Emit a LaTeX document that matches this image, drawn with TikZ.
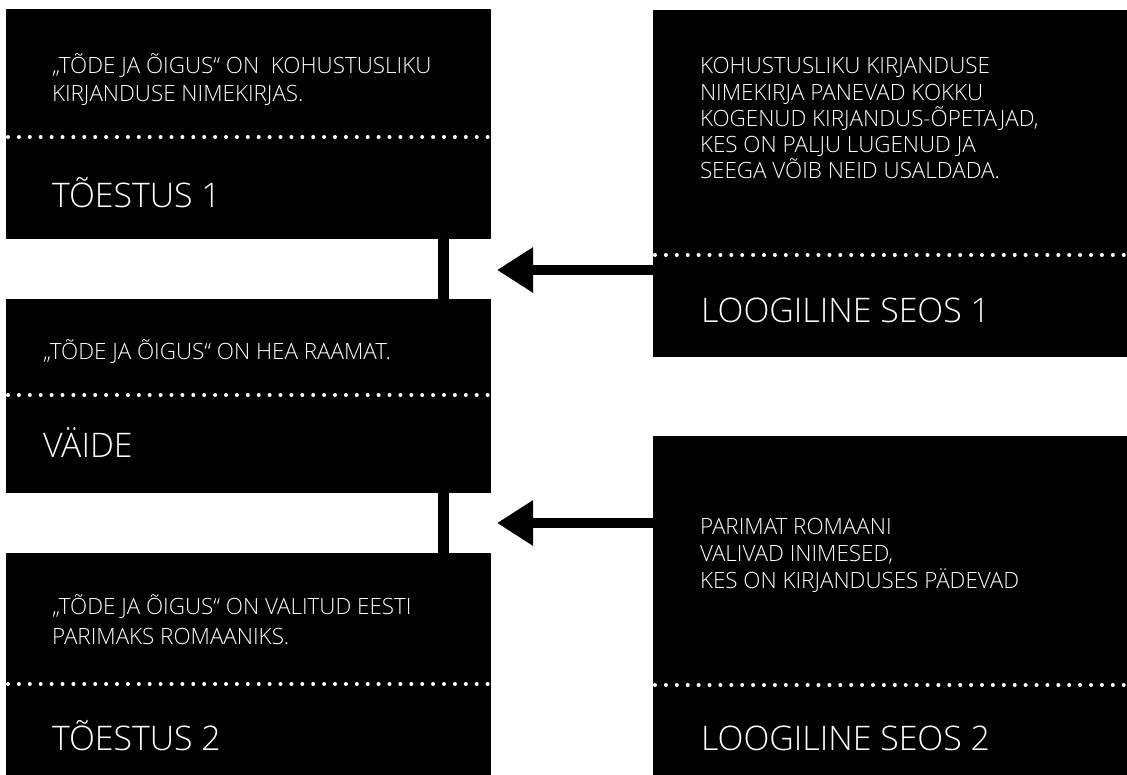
\documentclass[tikz,border=0pt]{standalone}
\usepackage{fontspec}
\setmainfont{Open Sans}[UprightFont=* Light]
\usetikzlibrary{arrows.meta}
\begin{document}
\begin{tikzpicture}[x=1bp,y=-1bp,
  box/.style={fill=black, draw=none, anchor=north west, inner sep=0pt, outer sep=0pt},
  dots/.style={white, line width=4bp, line cap=round, dash pattern=on 0bp off 10.9bp},
  bar/.style={black, line width=11bp},
  arr/.style={black, line width=10bp, -{Triangle[length=36bp,width=43bp]}},
  small/.style={text=white, anchor=base west, inner sep=0pt, outer sep=0pt},
  big/.style={text=white, anchor=base west, inner sep=0pt, outer sep=0pt, font=\fontsize{34}{40}\selectfont}
]
\useasboundingbox (0,0) rectangle (1127,775);
\fill[white] (0,0) rectangle (1127,775);

% boxes
\node[box, minimum width=485bp, minimum height=230bp] (L1) at (6,9) {};
\node[box, minimum width=485bp, minimum height=194bp] (L2) at (6,299) {};
\node[box, minimum width=485bp, minimum height=222bp] (L3) at (6,553) {};
\node[box, minimum width=474bp, minimum height=347bp] (R1) at (653,10) {};
\node[box, minimum width=474bp, minimum height=339bp] (R2) at (653,436) {};

% dotted separators
\draw[dots] (8,137) -- (491,137);
\draw[dots] (8,395) -- (491,395);
\draw[dots] (8,684) -- (491,684);
\draw[dots] (655,255) -- (1127,255);
\draw[dots] (655,685) -- (1127,685);

% texts
\node[small, font=\fontsize{22.5}{28}\selectfont] (t1) at (52,74)
  {\parbox[t]{420bp}{\raggedright „TÕDE JA ÕIGUS“ ON\ \ KOHUSTUSLIKU\\KIRJANDUSE NIMEKIRJAS.}};
\node[big] (h1) at (52,207) {TÕESTUS 1};

\node[small, font=\fontsize{22.5}{28}\selectfont] (t2) at (43,359) {„TÕDE JA ÕIGUS“ ON HEA RAAMAT.};
\node[big] (h2) at (43,457) {VÄIDE};

\node[small, font=\fontsize{22.5}{31}\selectfont] (t3) at (52,614)
  {\parbox[t]{420bp}{\raggedright „TÕDE JA ÕIGUS“ ON VALITUD EESTI\\PARIMAKS ROMAANIKS.}};
\node[big] (h3) at (52,750) {TÕESTUS 2};

\node[small, font=\fontsize{22.5}{26.3}\selectfont] (t4) at (700,74)
  {\parbox[t]{420bp}{\raggedright KOHUSTUSLIKU KIRJANDUSE\\NIMEKIRJA PANEVAD KOKKU\\KOGENUD KIRJANDUS-ÕPETAJAD,\\KES ON PALJU LUGENUD JA\\SEEGA VÕIB NEID USALDADA.}};
\node[big] (h4) at (701,322) {LOOGILINE SEOS 1};

\node[small, font=\fontsize{22.5}{27.5}\selectfont] (t5) at (700,534)
  {\parbox[t]{420bp}{\raggedright PARIMAT ROMAANI\\VALIVAD INIMESED,\\KES ON KIRJANDUSES PÄDEVAD}};
\node[big] (h5) at (701,750) {LOOGILINE SEOS 2};

% connectors
\coordinate (cx) at (443.5,0);
\draw[bar] (L1.south -| cx) -- (L2.north -| cx);
\draw[bar] (L2.south -| cx) -- (L3.north -| cx);

\coordinate (tip1) at (497,270);
\coordinate (tip2) at (497,523);
\draw[arr] (R1.west |- tip1) -- (tip1);
\draw[arr] (R2.west |- tip2) -- (tip2);
\end{tikzpicture}
\end{document}
